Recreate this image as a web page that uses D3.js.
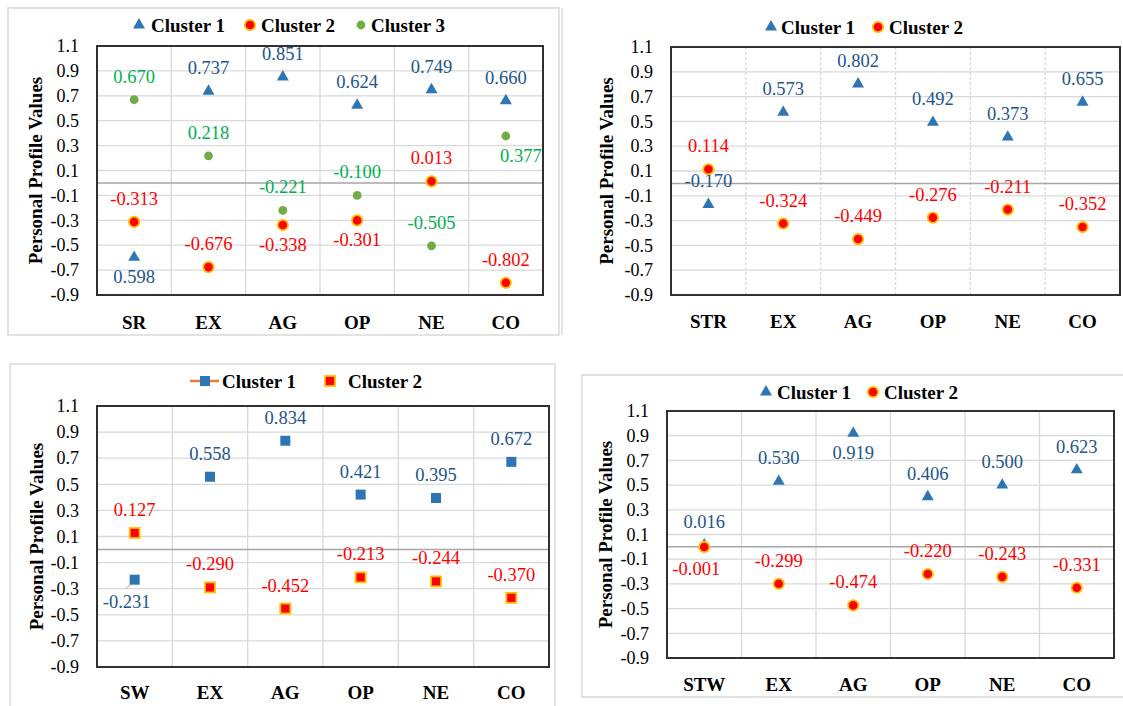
<!DOCTYPE html>
<html>
<head>
<meta charset="utf-8">
<script src="https://cdnjs.cloudflare.com/ajax/libs/d3/7.8.5/d3.min.js"></script>
<style>
  body { margin: 0; background: #fff; }
</style>
</head>
<body>
<div id="chart"></div>
<script>
var svgWidth = 1123;
var svgHeight = 706;
var serif = "Liberation Serif, Tinos, serif";

// categories of the four panels
var cats1 = ["SR", "EX", "AG", "OP", "NE", "CO"];
var cats2 = ["STR", "EX", "AG", "OP", "NE", "CO"];
var cats3 = ["SW", "EX", "AG", "OP", "NE", "CO"];
var cats4 = ["STW", "EX", "AG", "OP", "NE", "CO"];

var yTicks = [-0.9, -0.7, -0.5, -0.3, -0.1, 0.1, 0.3, 0.5, 0.7, 0.9, 1.1];

// panel 1
var p1Cluster1 = [-0.598, 0.737, 0.851, 0.624, 0.749, 0.660];
var p1Cluster1Labels = ["0.598", "0.737", "0.851", "0.624", "0.749", "0.660"]; // printed as in source
var p1Cluster2 = [-0.313, -0.676, -0.338, -0.301, 0.013, -0.802];
var p1Cluster3 = [0.670, 0.218, -0.221, -0.100, -0.505, 0.377];

// panel 2
var p2Cluster1 = [-0.170, 0.573, 0.802, 0.492, 0.373, 0.655];
var p2Cluster2 = [0.114, -0.324, -0.449, -0.276, -0.211, -0.352];

// panel 3
var p3Cluster1 = [-0.231, 0.558, 0.834, 0.421, 0.395, 0.672];
var p3Cluster2 = [0.127, -0.290, -0.452, -0.213, -0.244, -0.370];

// panel 4
var p4Cluster1 = [0.016, 0.530, 0.919, 0.406, 0.500, 0.623];
var p4Cluster2 = [-0.001, -0.299, -0.474, -0.220, -0.243, -0.331];

var legendNames = ["Cluster 1", "Cluster 2", "Cluster 3"];

// hyphen minus like the original, not the unicode minus
var locale = d3.formatLocale({decimal: ".", thousands: ",", grouping: [3], currency: ["", ""], minus: "-"});
var fmtTick = locale.format(".1f");
var fmtLabel = locale.format(".3f");

var blue = "#2E75B6", blueText = "#22558A";
var red = "#FF0000", gold = "#FFC000";
var green = "#70AD47", greenText = "#00B050";

var svg = d3.select("#chart")
  .append("svg")
  .attr("width", svgWidth)
  .attr("height", svgHeight)
  .attr("font-family", serif);

var triStyle = {shape: "triangle", fill: blue, stroke: "none", size: 62, textColor: blueText};
var redCircle = {shape: "circle", fill: red, stroke: gold, size: 5.2, textColor: red};
var greenCircle = {shape: "circle", fill: green, stroke: "none", size: 4.4, textColor: greenText};
var blueSquare = {shape: "square", fill: blue, stroke: "none", size: 10, textColor: blueText};
var redSquare = {shape: "square", fill: red, stroke: gold, size: 10, textColor: red};

var panels = [
  {
    cats: cats1, x0: 97, x1: 543, y0: 46, y1: 295, catY: 323, titleX: 35,
    frame: {x: 8, y: 8, w: 551, h: 327},
    legendY: 25, legend: [[139, 151], [250, 261], [361, 371]],
    series: [
      Object.assign({values: p1Cluster1, labels: p1Cluster1Labels, place: ["b", "a", "a", "a", "a", "a"]}, triStyle),
      Object.assign({values: p1Cluster2, place: ["a", "a", "b", "b", "a", "a"]}, redCircle),
      Object.assign({values: p1Cluster3, place: ["a", "a", "a", "a", "a", "br"]}, greenCircle)
    ]
  },
  {
    cats: cats2, x0: 671, x1: 1120, y0: 47, y1: 295, catY: 322, titleX: 606, dashed: true,
    frame: {x: 562, y: 8, w: 600, h: 327, leftOnly: true},
    legendY: 27, legend: [[771, 781], [878, 889]],
    series: [
      Object.assign({values: p2Cluster1, place: ["a", "a", "a", "a", "a", "a"]}, triStyle),
      Object.assign({values: p2Cluster2, place: ["a", "a", "a", "a", "a", "a"]}, redCircle)
    ]
  },
  {
    cats: cats3, x0: 97, x1: 549, y0: 406, y1: 667, catY: 693, titleX: 36,
    frame: {x: 10, y: 364, w: 545, h: 400},
    legendY: 381, legend: [[205, 222], [330, 348]], lineLegend: true,
    series: [
      Object.assign({values: p3Cluster1, place: ["bl", "a", "a", "a", "a", "a"], leader: true}, blueSquare),
      Object.assign({values: p3Cluster2, place: ["a", "a", "a", "a", "a", "a"]}, redSquare)
    ]
  },
  {
    cats: cats4, x0: 667, x1: 1114, y0: 411, y1: 658, catY: 685, titleX: 605,
    frame: {x: 582, y: 375, w: 600, h: 322},
    legendY: 392, legend: [[766, 777], [873, 884]],
    series: [
      Object.assign({values: p4Cluster1, place: ["a", "a", "b", "a", "a", "a"]}, triStyle),
      Object.assign({values: p4Cluster2, place: ["bl", "a", "a", "a", "a", "a"]}, redCircle)
    ]
  }
];

function drawMarker(g, s, cx, cy) {
  if (s.shape === "circle") {
    g.append("circle")
      .attr("cx", cx).attr("cy", cy).attr("r", s.size)
      .attr("fill", s.fill)
      .attr("stroke", s.stroke).attr("stroke-width", 1.8);
  } else if (s.shape === "square") {
    g.append("rect")
      .attr("x", cx - s.size / 2).attr("y", cy - s.size / 2)
      .attr("width", s.size).attr("height", s.size)
      .attr("fill", s.fill)
      .attr("stroke", s.stroke).attr("stroke-width", 1.8);
  } else {
    g.append("path")
      .attr("d", d3.symbol().type(d3.symbolTriangle).size(s.size)())
      .attr("transform", `translate(${cx}, ${cy})`)
      .attr("fill", s.fill);
  }
}

panels.forEach(function(p) {
  var x = d3.scaleBand().domain(p.cats).range([p.x0, p.x1]).padding(0);
  var y = d3.scaleLinear().domain([-0.9, 1.1]).range([p.y1, p.y0]);
  var g = svg.append("g");

  // outer frame of the panel
  if (p.frame.leftOnly) {
    g.append("line")
      .attr("x1", p.frame.x).attr("x2", p.frame.x)
      .attr("y1", p.frame.y).attr("y2", p.frame.y + p.frame.h)
      .attr("stroke", "#d9d9d9").attr("stroke-width", 1.5);
  } else {
    g.append("rect")
      .attr("x", p.frame.x).attr("y", p.frame.y)
      .attr("width", p.frame.w).attr("height", p.frame.h)
      .attr("fill", "none").attr("stroke", "#d9d9d9").attr("stroke-width", 1.5);
  }

  // grid
  g.selectAll(null).data(yTicks).enter().append("line")
    .attr("x1", p.x0).attr("x2", p.x1)
    .attr("y1", d => y(d)).attr("y2", d => y(d))
    .attr("stroke", "#d9d9d9").attr("stroke-width", 1.3);

  g.selectAll(null).data(p.cats.slice(1)).enter().append("line")
    .attr("x1", d => x(d)).attr("x2", d => x(d))
    .attr("y1", p.y0).attr("y2", p.y1)
    .attr("stroke", "#d9d9d9").attr("stroke-width", 1.3)
    .attr("stroke-dasharray", p.dashed ? "3,2" : null);

  // zero line
  g.append("line")
    .attr("x1", p.x0).attr("x2", p.x1)
    .attr("y1", y(0)).attr("y2", y(0))
    .attr("stroke", "#a6a6a6").attr("stroke-width", 1.5);

  // plot border
  g.append("rect")
    .attr("x", p.x0).attr("y", p.y0)
    .attr("width", p.x1 - p.x0).attr("height", p.y1 - p.y0)
    .attr("fill", "none").attr("stroke", "#303030").attr("stroke-width", 2);

  // axes
  var leftAxis = d3.axisLeft(y).tickValues(yTicks).tickFormat(fmtTick).tickSize(0).tickPadding(18);
  var yAxisG = g.append("g")
    .attr("transform", `translate(${p.x0}, 0)`)
    .call(leftAxis);
  yAxisG.select(".domain").remove();
  yAxisG.attr("font-family", serif).attr("font-size", "18px");
  yAxisG.selectAll("text").attr("fill", "#000");

  var bottomAxis = d3.axisBottom(x).tickSize(0).tickPadding(p.catY - p.y1 - 7);
  var xAxisG = g.append("g")
    .attr("transform", `translate(0, ${p.y1})`)
    .call(bottomAxis);
  xAxisG.select(".domain").remove();
  xAxisG.attr("font-family", serif).attr("font-size", "19px");
  xAxisG.selectAll("text").attr("font-weight", "bold").attr("fill", "#000");

  // y title
  g.append("text")
    .attr("transform", `translate(${p.titleX}, ${(p.y0 + p.y1) / 2}) rotate(-90)`)
    .attr("text-anchor", "middle")
    .attr("dy", "0.35em")
    .attr("font-size", "19px")
    .attr("font-weight", "bold")
    .text("Personal Profile Values");

  // points and labels
  p.series.forEach(function(s) {
    s.values.forEach(function(v, i) {
      var cx = x(p.cats[i]) + x.bandwidth() / 2;
      var cy = y(v);
      var txt = s.labels ? s.labels[i] : fmtLabel(v);
      var pl = s.place[i];
      var lx = cx, ly = cy - 17;
      if (pl === "b") ly = cy + 26;
      if (pl === "br") { lx = cx + 15; ly = cy + 26; }
      if (pl === "bl") { lx = cx - 8; ly = cy + 28; }
      if (s.leader && pl === "bl") {
        g.append("line")
          .attr("x1", cx - 3).attr("y1", cy + 4)
          .attr("x2", cx - 9).attr("y2", cy + 9)
          .attr("stroke", "#a6a6a6").attr("stroke-width", 1);
      }
      drawMarker(g, s, cx, cy);
      g.append("text")
        .attr("x", lx).attr("y", ly)
        .attr("text-anchor", "middle")
        .attr("font-size", "18.5px")
        .attr("fill", s.textColor)
        .text(txt);
    });
  });

  // legend
  p.legend.forEach(function(pos, k) {
    var s = p.series[k];
    if (p.lineLegend && k === 0) {
      g.append("line")
        .attr("x1", pos[0] - 15).attr("x2", pos[0] + 14)
        .attr("y1", p.legendY).attr("y2", p.legendY)
        .attr("stroke", "#ED7D31").attr("stroke-width", 2.5);
    }
    drawMarker(g, s, pos[0], p.legendY);
    g.append("text")
      .attr("x", pos[1]).attr("y", p.legendY)
      .attr("dy", "0.35em")
      .attr("font-size", "19px")
      .attr("font-weight", "bold")
      .attr("fill", "#000")
      .text(legendNames[k]);
  });
});
</script>
</body>
</html>
